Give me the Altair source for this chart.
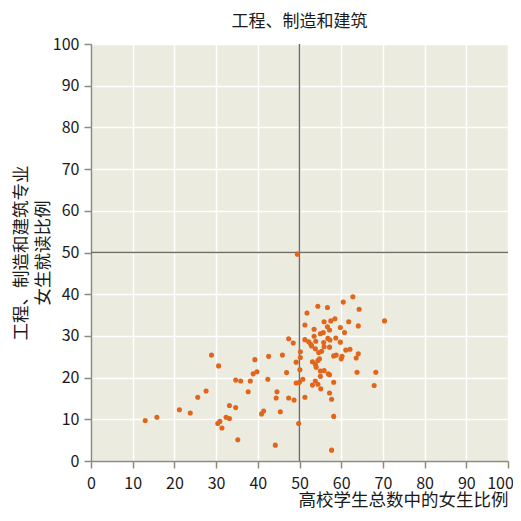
import altair as alt
import pandas as pd

x_vals = [13.0, 15.8, 21.2, 23.8, 25.6, 27.6, 28.9, 30.6, 30.4, 30.9, 31.4, 32.4, 33.2, 33.2, 34.7,
          35.2, 34.7, 35.9, 38.2, 37.7, 39.3, 38.9, 39.8, 40.9, 41.4, 42.6, 42.4, 44.6, 44.4, 44.2,
          45.4, 45.9, 46.9, 47.4, 48.7, 47.4, 48.5, 49.2, 50.1, 50.2, 50.2, 49.2, 50.0, 50.8, 51.3,
          49.8, 49.5, 51.3, 52.2, 51.8, 54.4, 56.7, 60.5, 62.8, 64.3, 70.4, 51.3, 55.9, 57.5, 58.5,
          61.8, 64.1, 53.5, 56.7, 57.2, 59.8, 60.8, 53.5, 53.9, 55.0, 55.7, 56.8, 57.3, 55.8, 58.7,
          59.8, 52.7, 52.9, 53.8, 55.9, 57.2, 55.3, 54.6, 58.2, 58.8, 60.0, 60.2, 61.1, 62.1, 64.1,
          63.6, 53.1, 53.8, 54.4, 54.8, 54.0, 55.0, 55.9, 56.9, 63.8, 68.3, 57.2, 53.1, 53.8, 54.4,
          55.0, 55.1, 58.2, 67.9, 57.2, 57.7, 58.2, 57.7]
y_vals = [9.7, 10.5, 12.3, 11.5, 15.3, 16.8, 25.4, 22.8, 9.0, 9.5, 7.9, 10.5, 10.2, 13.3, 12.8,
          5.1, 19.4, 19.2, 19.2, 16.6, 24.3, 20.9, 21.4, 11.3, 12.0, 25.1, 19.6, 16.6, 15.1, 3.8,
          11.8, 25.4, 21.2, 15.1, 14.6, 29.3, 28.3, 23.7, 21.9, 26.2, 24.8, 18.7, 18.9, 19.6, 15.3,
          9.0, 49.6, 29.1, 28.6, 35.5, 37.1, 36.8, 38.1, 39.4, 36.4, 33.6, 32.6, 33.4, 33.6, 34.1,
          33.4, 32.4, 31.6, 32.2, 31.4, 32.0, 30.8, 29.9, 28.7, 30.5, 30.8, 29.4, 29.0, 28.4, 29.5,
          28.5, 28.0, 27.6, 26.9, 27.4, 27.3, 26.3, 26.0, 25.2, 25.4, 24.5, 25.1, 26.6, 26.8, 25.7,
          24.7, 23.8, 23.2, 24.1, 24.5, 22.5, 21.6, 21.7, 20.9, 21.3, 21.3, 20.7, 18.2, 19.2, 18.4,
          20.3, 17.3, 18.9, 18.1, 16.3, 14.8, 10.7, 2.6]

tick_values = [0, 10, 20, 30, 40, 50, 60, 70, 80, 90, 100]
ref_x = [50]
ref_y = [50]

title_text = "工程、制造和建筑"
x_title = "高校学生总数中的女生比例"
y_title = ["工程、制造和建筑专业", "女生就读比例"]

FONT = "Noto Sans CJK SC"

df = pd.DataFrame({"x": x_vals, "y": y_vals})

x_axis = alt.Axis(values=tick_values, title=x_title, titleAnchor="end", labelPadding=7,
                  titlePadding=0, format="d", labelFlush=False,
                  labelOffset=alt.ExprRef("datum.value == 100 ? -8 : 0"))
y_axis = alt.Axis(values=tick_values, title=y_title, labelPadding=5, titlePadding=0,
                  titleLineHeight=22, format="d", labelFlush=False)
xs = alt.Scale(domain=[0, 100], nice=False, zero=False)
ys = alt.Scale(domain=[0, 100], nice=False, zero=False)

points = alt.Chart(df).mark_circle(size=26, color="#E0661C", opacity=1).encode(
    x=alt.X("x:Q", scale=xs, axis=x_axis),
    y=alt.Y("y:Q", scale=ys, axis=y_axis),
)

vline = alt.Chart(pd.DataFrame({"x": ref_x})).mark_rule(color="#707062", strokeWidth=1.5).encode(
    x=alt.X("x:Q", scale=xs, axis=x_axis)
)
hline = alt.Chart(pd.DataFrame({"y": ref_y})).mark_rule(color="#707062", strokeWidth=1.5).encode(
    y=alt.Y("y:Q", scale=ys, axis=y_axis)
)

chart = alt.layer(vline, hline, points).properties(
    width=417,
    height=417,
    title=alt.Title(title_text, font=FONT, fontSize=17, fontWeight="normal", color="#1a1a1a",
                    anchor="middle", offset=5),
    autosize=alt.AutoSizeParams(type="none"),
    padding={"left": 83, "top": 36, "right": 5, "bottom": 50},
).configure_view(
    fill="#ECEBE0", strokeWidth=0
).configure_axis(
    grid=True, gridColor="#FFFFFF", gridWidth=1.5,
    domainColor="#8C8C7C", domainWidth=1.5, tickColor="#8C8C7C", tickWidth=1.5, tickSize=7,
    labelFont=FONT, labelFontSize=16, labelColor="#1a1a1a",
    titleFont=FONT, titleFontSize=17.5, titleFontWeight="normal", titleColor="#1a1a1a",
)

chart.save("out.html", embed_options={"renderer": "svg", "actions": False})
